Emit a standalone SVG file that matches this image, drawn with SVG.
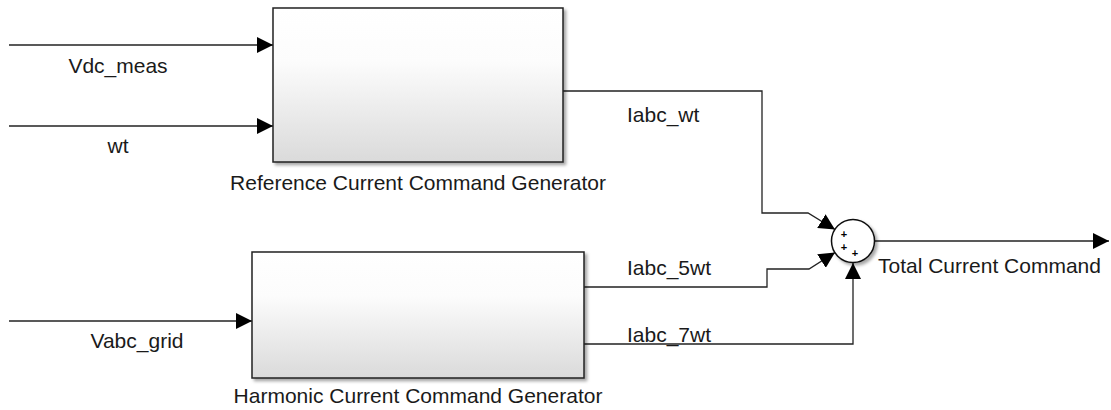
<svg xmlns="http://www.w3.org/2000/svg" width="1111" height="410" viewBox="0 0 1111 410">
<defs>
<style>
text{font-family:"Liberation Sans",Arial,sans-serif;font-size:21px;fill:#1a1a1a}
.lbl{text-anchor:middle}
.sig{fill:none;stroke:#222;stroke-width:1.3}
.blk{fill:url(#g);stroke:#222;stroke-width:1.5;filter:url(#sh)}
.sum{fill:#fff;stroke:#111;stroke-width:1.5;filter:url(#sh)}
.pl{font-size:11px;font-weight:bold;text-anchor:middle;fill:#000}
</style>
<linearGradient id="g" x1="0" y1="0" x2="0" y2="1">
<stop offset="0" stop-color="#ffffff"/>
<stop offset="0.35" stop-color="#fcfcfc"/>
<stop offset="1" stop-color="#dadada"/>
</linearGradient>
<filter id="sh" x="-10%" y="-10%" width="130%" height="130%">
<feDropShadow dx="2.5" dy="2.5" stdDeviation="1.5" flood-color="#000" flood-opacity="0.35"/>
</filter>
<marker id="ar" viewBox="0 0 16 16" refX="16" refY="8" markerWidth="16" markerHeight="16" markerUnits="userSpaceOnUse" orient="auto">
<path d="M0,0 L16,8 L0,16 Z" fill="#000"/>
</marker>
</defs>
<g id="connectors">
<path class="sig" d="M9,45 H273" marker-end="url(#ar)"/>
<path class="sig" d="M9,126 H273" marker-end="url(#ar)"/>
<path class="sig" d="M9,321 H252" marker-end="url(#ar)"/>
<path class="sig" d="M563,91 H762 V213 H808 L835,229.5" marker-end="url(#ar)"/>
<path class="sig" d="M584,287 H767 V269 H809 L835,252.5" marker-end="url(#ar)"/>
<path class="sig" d="M584,344 H853 V263" marker-end="url(#ar)"/>
<path class="sig" d="M874.5,241 H1109" marker-end="url(#ar)"/>
<text x="118" y="73" class="lbl">Vdc_meas</text>
<text x="118" y="153" class="lbl">wt</text>
<text x="137" y="348" class="lbl">Vabc_grid</text>
<text x="627" y="122">Iabc_wt</text>
<text x="627" y="275">Iabc_5wt</text>
<text x="627" y="342">Iabc_7wt</text>
<text x="878" y="273">Total Current Command</text>
</g>
<g id="ref_gen">
<rect class="blk" x="273" y="8" width="290" height="154"/>
<text x="418" y="190" class="lbl">Reference Current Command Generator</text>
</g>
<g id="harm_gen">
<rect class="blk" x="252" y="252" width="332" height="126"/>
<text x="418" y="403" class="lbl">Harmonic Current Command Generator</text>
</g>
<g id="sum">
<circle class="sum" cx="853" cy="241" r="21.5"/>
<text class="pl" x="844" y="237.9">+</text>
<text class="pl" x="844" y="250.9">+</text>
<text class="pl" x="855" y="257.4">+</text>
</g>
</svg>
